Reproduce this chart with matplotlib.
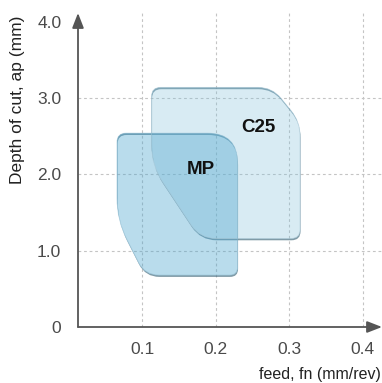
import numpy as np
import matplotlib
matplotlib.use("Agg")
import matplotlib.pyplot as plt
from matplotlib.path import Path
from matplotlib.patches import PathPatch
from matplotlib.transforms import IdentityTransform

plt.rcParams['font.family'] = ['Liberation Sans', 'DejaVu Sans']

# ---------------- data ----------------
x_ticks = [0.1, 0.2, 0.3, 0.4]
x_ticklabels = ['0.1', '0.2', '0.3', '0.4']
y_ticks = [0, 1, 2, 3, 4]
y_ticklabels = ['0', '1.0', '2.0', '3.0', '4.0']

# outline of each working area (feed, depth), corners rounded later
mp_feed = [0.066, 0.066, 0.104, 0.230, 0.230]
mp_depth = [2.54, 1.40, 0.68, 0.68, 2.54]
mp_radius = [9, 22, 14, 8, 30]          # corner rounding, px

c25_feed = [0.113, 0.113, 0.179, 0.315, 0.315, 0.277]
c25_depth = [3.14, 2.12, 1.16, 1.16, 2.69, 3.14]
c25_radius = [9, 20, 16, 9, 14, 14]

labels = ['MP', 'C25']
label_pos = [(0.1796, 2.06), (0.2588, 2.61)]

# ---------------- figure ----------------
fig = plt.figure(figsize=(3.82, 3.83), dpi=100)
W, H = 382, 383
ax = fig.add_axes([78 / W, (H - 327) / H, (382 - 78) / W, (327 - 13) / H])
xmin, xmax = 0.0129, 0.4265
ymin, ymax = 0.0, 4.115
ax.set_xlim(xmin, xmax)
ax.set_ylim(ymin, ymax)
for s in ax.spines.values():
    s.set_visible(False)

ax.set_xticks(x_ticks)
ax.set_xticklabels(x_ticklabels)
ax.set_yticks(y_ticks)
ax.set_yticklabels(y_ticklabels)
ax.tick_params(length=0, labelsize=12.5, labelcolor='#4a4a4a')
ax.tick_params(axis='x', pad=11)
ax.tick_params(axis='y', pad=12)

# grid
for xv in x_ticks:
    ax.axvline(xv, color='#c4c4c4', lw=0.8, ls=(0, (2.5, 2.5)), zorder=0.5)
for yv in y_ticks[1:4]:
    ax.axhline(yv, color='#c4c4c4', lw=0.8, ls=(0, (2.5, 2.5)), zorder=0.5)


def rounded_path(xs, ys, radii, dx=0.0, dy=0.0):
    pts = ax.transData.transform(np.column_stack([xs, ys])) + [dx, dy]
    n = len(pts)
    p_in, p_out = [], []
    for i in range(n):
        v = pts[i]
        d1 = pts[i - 1] - v
        d2 = pts[(i + 1) % n] - v
        l1, l2 = np.hypot(*d1), np.hypot(*d2)
        r = min(radii[i], l1 / 2, l2 / 2)
        p_in.append(v + d1 / l1 * r)
        p_out.append(v + d2 / l2 * r)
    verts = [p_out[0]]
    codes = [Path.MOVETO]
    for k in range(1, n + 1):
        i = k % n
        verts += [p_in[i], pts[i], p_out[i]]
        codes += [Path.LINETO, Path.CURVE3, Path.CURVE3]
    verts.append(p_out[0])
    codes.append(Path.CLOSEPOLY)
    return Path(np.array(verts), codes)


shapes = [
    (c25_feed, c25_depth, c25_radius, '#80c0da', 0.30, '#a9c9d8'),
    (mp_feed, mp_depth, mp_radius, '#4ba5ce', 0.39, '#8cbcd3'),
]
for xs, ys, rr, fc, a, ec in shapes:
    path = rounded_path(xs, ys, rr)
    # thin shadow rim: shifted outline minus the shape itself
    shifted = rounded_path(xs, ys, rr, 0.5, -1.8)
    hole = rounded_path(xs[::-1], ys[::-1], rr[::-1])
    rim = Path.make_compound_path(shifted, hole)
    ax.add_patch(PathPatch(rim, facecolor='#3c6578', edgecolor='none', alpha=0.65,
                           transform=IdentityTransform(), zorder=1))
    ax.add_patch(PathPatch(path, facecolor=fc, edgecolor='none', alpha=a,
                           transform=IdentityTransform(), zorder=1.2))
    ax.add_patch(PathPatch(path, facecolor='none', edgecolor=ec, lw=0.6,
                           alpha=0.6, transform=IdentityTransform(), zorder=1.3))

for lab, (lx, ly) in zip(labels, label_pos):
    ax.text(lx, ly, lab, ha='center', va='center', fontsize=13.5,
            fontweight='bold', color='#111111', zorder=5)

# axes arrows
arrow_kw = dict(arrowstyle='-|>,head_length=0.9,head_width=0.35', color='#555555',
                lw=1.3, shrinkA=0, shrinkB=0)
ax.annotate('', xy=(xmax, 0), xytext=(xmin, 0), arrowprops=arrow_kw,
            annotation_clip=False, zorder=6)
ax.annotate('', xy=(xmin, ymax), xytext=(xmin, 0), arrowprops=arrow_kw,
            annotation_clip=False, zorder=6)

fig.text(18 / W, 1 - 100 / H, 'Depth of cut, ap (mm)', rotation=90, ha='center',
         va='center', fontsize=12.5, color='#222222')
fig.text(381 / W, 1 - 374 / H, 'feed, fn (mm/rev)', ha='right', va='center',
         fontsize=11.5, color='#222222')

fig.savefig('out.png', dpi=100)
